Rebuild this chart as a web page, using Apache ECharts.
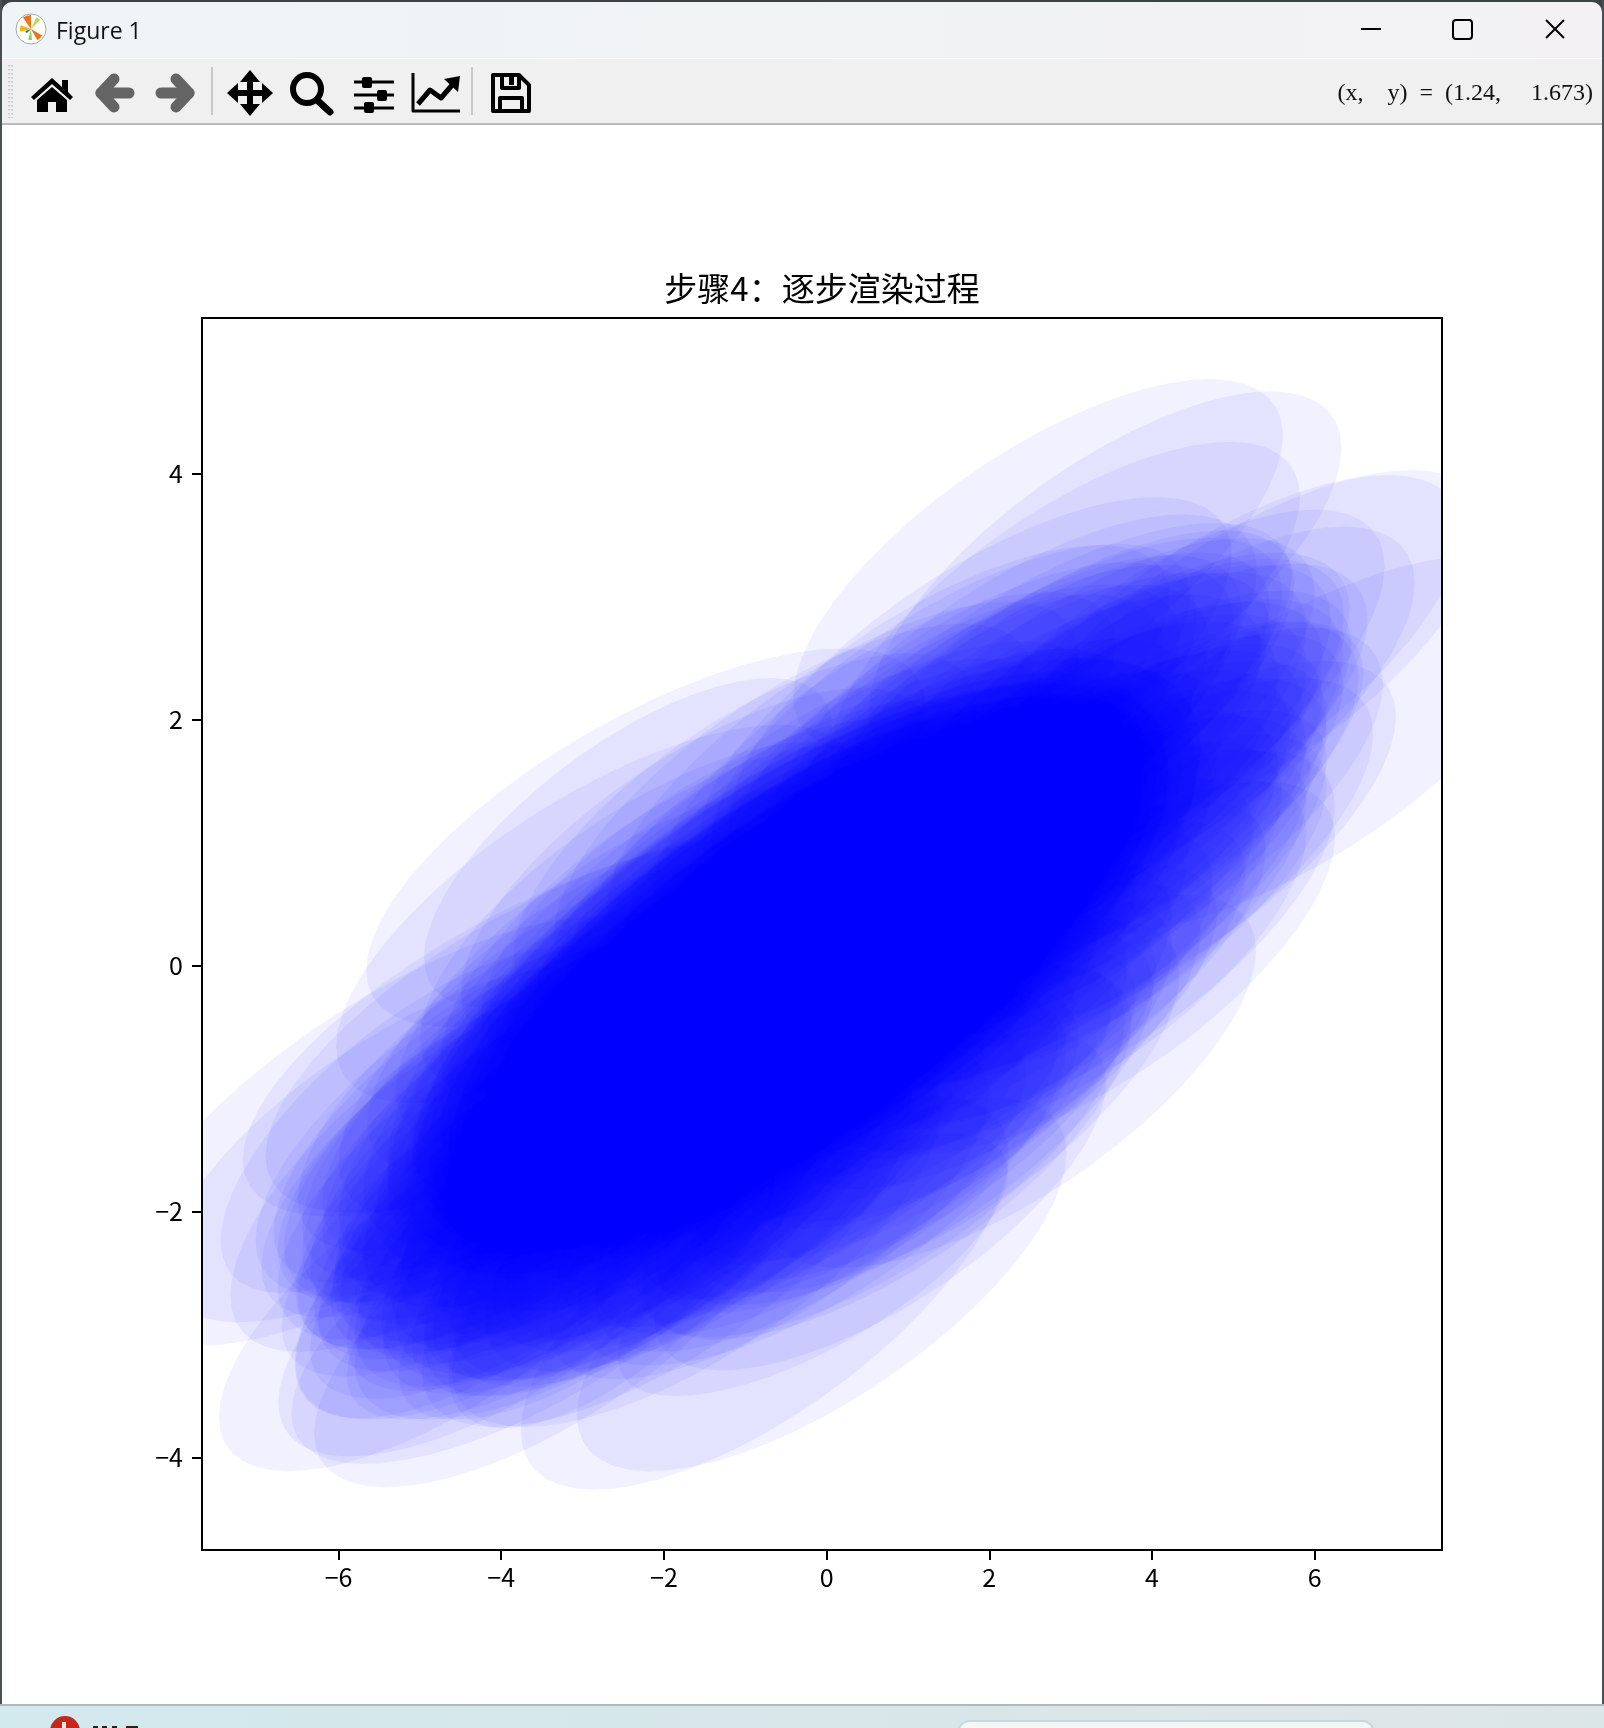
<!DOCTYPE html>
<html>
<head>
<meta charset="utf-8">
<title>Figure 1</title>
<script src="https://cdn.jsdelivr.net/npm/echarts@6/dist/echarts.min.js"></script>
<style>
html, body { margin: 0; padding: 0; background: #ffffff; }
#divChart { width: 1604px; height: 1728px; }
</style>
</head>
<body>
<div id="divChart"></div>
<script>
// every row: centre x, centre y, half width, half height (axis units)
let outerSplats = [
    [2.60, 3.25, 3.01, 1.52], [3.42, 3.14, 2.91, 1.53], [2.93, 2.77, 2.89, 1.49], [1.89, 2.27, 3.09, 1.54],
    [2.28, 2.15, 3.01, 1.52], [2.62, 2.14, 3.10, 1.46], [1.33, 2.04, 2.89, 1.38], [1.52, 2.01, 2.95, 1.42],
    [5.08, 2.51, 3.01, 1.52], [4.79, 2.47, 3.01, 1.52], [4.01, 2.17, 2.85, 1.54], [4.34, 2.05, 2.89, 1.52],
    [5.70, 1.79, 3.20, 1.54], [3.99, 0.96, 3.01, 1.52], [3.83, 1.23, 3.01, 1.52], [3.71, 0.82, 3.01, 1.52],
    [3.53, 1.28, 3.01, 1.52], [3.64, 1.75, 3.01, 1.52], [3.42, 1.84, 3.01, 1.52], [3.35, 1.79, 3.01, 1.52],
    [3.24, 0.23, 3.01, 1.52], [3.24, -0.02, 3.01, 1.52], [2.94, 0.51, 3.01, 1.52], [2.89, 0.01, 3.01, 1.52],
    [2.27, -0.94, 3.01, 1.52], [0.66, -1.91, 2.78, 1.38], [0.66, -1.50, 3.01, 1.52], [1.01, -1.24, 3.01, 1.52],
    [1.33, -1.14, 3.01, 1.52], [-4.62, -2.65, 2.85, 1.46], [-3.85, -2.53, 2.89, 1.46], [-3.61, -2.69, 2.97, 1.36],
    [-3.36, -2.78, 2.94, 1.46], [-3.88, -2.22, 2.66, 1.46], [-3.40, -2.49, 2.50, 1.20], [-2.92, -2.47, 2.34, 1.22],
    [-2.23, -2.01, 2.73, 1.49], [-2.39, -2.30, 2.26, 1.46], [-0.76, -2.66, 3.00, 1.60], [-0.06, -2.59, 3.01, 1.52],
    [-0.17, -2.43, 2.40, 1.07], [-3.49, -0.50, 3.69, 1.54], [-3.34, -0.47, 3.56, 1.54], [-4.95, -1.25, 2.50, 1.41],
    [-4.52, -1.60, 2.81, 1.54], [-5.24, -1.34, 3.56, 1.75], [-5.12, -1.44, 3.01, 1.46], [-2.83, 0.42, 3.20, 1.54],
    [-2.22, 1.04, 3.44, 1.54], [-2.44, 1.00, 2.51, 1.34], [-4.01, -1.17, 3.01, 1.52], [-3.66, -1.22, 3.01, 1.52],
    [-3.52, -1.60, 3.01, 1.52], [-3.06, -1.54, 3.01, 1.52], [-2.97, -1.62, 3.01, 1.52], [-2.47, -1.84, 3.01, 1.52],
    [-1.95, -1.85, 3.01, 1.52], [-1.60, -1.84, 3.01, 1.52], [-1.60, -2.23, 3.01, 1.52], [-1.97, -2.23, 3.01, 1.52],
    [-2.79, -2.17, 3.01, 1.52], [-3.52, -2.17, 3.01, 1.52], [0.74, -1.52, 3.01, 1.52], [-0.06, -1.73, 3.01, 1.52]
];
let midSplats = [
    [3.10, 2.00, 2.90, 1.48], [3.60, 1.60, 2.85, 1.45], [2.90, 1.70, 3.00, 1.50], [3.30, 1.20, 2.80, 1.42],
    [3.90, 1.40, 2.70, 1.40], [2.50, 1.90, 2.95, 1.46], [2.70, 1.30, 2.85, 1.50], [3.00, 0.80, 2.90, 1.44],
    [3.50, 0.70, 2.65, 1.38], [2.30, 1.50, 3.05, 1.52], [2.10, 1.00, 2.80, 1.40], [2.60, 0.60, 2.95, 1.48],
    [3.20, 0.40, 2.70, 1.36], [1.80, 1.60, 2.90, 1.50], [1.50, 1.20, 3.00, 1.46], [2.00, 0.50, 2.75, 1.42],
    [2.40, 0.10, 2.85, 1.44], [2.80, 0.00, 2.60, 1.34], [1.20, 1.50, 2.95, 1.52], [0.90, 1.10, 2.85, 1.48],
    [0.40, 1.20, 2.90, 1.44], [-0.20, 1.00, 3.00, 1.50], [-0.80, 0.70, 2.80, 1.46], [-1.30, 0.60, 2.95, 1.42],
    [-1.90, 0.30, 2.85, 1.50], [-2.40, 0.00, 2.90, 1.46], [-2.90, -0.30, 2.75, 1.40], [-3.30, -0.60, 2.70, 1.44],
    [0.60, 0.60, 3.05, 1.48], [0.00, 0.40, 2.90, 1.52], [-0.60, 0.20, 2.85, 1.44], [-1.20, 0.00, 3.00, 1.46],
    [-1.80, -0.30, 2.95, 1.50], [-2.30, -0.50, 2.80, 1.42], [-2.80, -0.80, 2.90, 1.48], [-3.80, -0.90, 2.70, 1.42],
    [-4.20, -1.20, 2.60, 1.38], [-3.60, -1.30, 2.85, 1.46], [-4.00, -1.60, 2.75, 1.44], [-3.30, -1.10, 2.90, 1.50],
    [-3.10, -1.50, 2.95, 1.42], [-3.50, -1.80, 2.80, 1.40], [-2.70, -1.30, 3.00, 1.48], [-2.90, -1.80, 2.85, 1.44],
    [-3.20, -2.10, 2.70, 1.36], [-2.30, -1.50, 2.95, 1.50], [-2.50, -1.90, 2.80, 1.42], [-2.00, -1.20, 2.90, 1.46],
    [-1.90, -1.70, 2.85, 1.40], [-2.10, -2.00, 2.75, 1.38], [-4.40, -1.50, 2.55, 1.36], [-4.10, -2.00, 2.60, 1.34],
    [-3.70, -2.20, 2.65, 1.32], [-1.40, -1.90, 2.80, 1.40], [-1.00, -1.60, 2.95, 1.46], [-0.70, -2.00, 2.70, 1.36],
    [-0.40, -1.50, 2.90, 1.44], [-0.20, -1.80, 2.65, 1.34], [0.20, -1.30, 2.85, 1.42], [0.50, -1.50, 2.60, 1.32],
    [0.80, -1.00, 2.90, 1.44], [1.10, -1.20, 2.70, 1.36], [1.30, -0.60, 2.95, 1.46], [1.60, -0.80, 2.65, 1.34],
    [1.90, -0.30, 2.85, 1.42], [2.20, -0.50, 2.60, 1.32], [-1.50, -1.30, 3.00, 1.50], [-0.90, -1.10, 2.90, 1.48],
    [-0.30, -0.90, 2.95, 1.46], [0.30, -0.70, 3.05, 1.50], [0.90, -0.40, 2.90, 1.48], [1.50, -0.10, 2.95, 1.46]
];
let tipSplats = [
    [3.40, 1.50, 2.95, 1.48], [3.10, 1.50, 3.00, 1.46], [3.60, 1.30, 2.75, 1.40], [3.30, 1.80, 2.90, 1.46],
    [2.80, 2.10, 2.95, 1.44], [2.60, 2.00, 3.00, 1.48], [2.40, 1.70, 3.05, 1.50], [2.90, 1.10, 2.95, 1.46],
    [3.30, 0.90, 2.85, 1.44], [2.70, 0.90, 3.00, 1.50], [3.40, 0.50, 2.75, 1.38], [2.20, 1.90, 2.90, 1.44],
    [2.00, 1.80, 3.00, 1.46], [1.60, 1.80, 2.95, 1.48], [1.30, 1.60, 3.05, 1.50], [3.00, 1.40, 2.90, 1.46],
    [3.20, 1.00, 2.95, 1.48], [-3.90, -1.30, 2.85, 1.44], [-3.70, -1.70, 2.80, 1.42], [-3.40, -1.40, 2.95, 1.48],
    [-3.20, -1.70, 2.90, 1.46], [-3.00, -2.00, 2.80, 1.42], [-2.80, -1.60, 3.00, 1.48], [-3.60, -1.10, 2.85, 1.46],
    [-3.30, -0.90, 2.90, 1.48], [-3.00, -1.20, 3.00, 1.50], [-2.60, -1.00, 2.95, 1.46], [-2.40, -1.70, 2.95, 1.44],
    [-2.70, -2.10, 2.75, 1.38], [-2.30, -2.10, 2.80, 1.40], [-1.80, -2.00, 2.85, 1.42], [-1.60, -1.60, 2.95, 1.46],
    [-1.20, -1.70, 2.90, 1.44], [-3.40, -1.90, 2.85, 1.40], [-2.20, -1.30, 3.05, 1.50], [-3.10, -1.00, 2.90, 1.46],
    [-1.00, 1.10, 2.85, 1.44], [-1.60, 0.80, 2.90, 1.46], [-2.20, 0.40, 2.80, 1.42], [0.20, 1.50, 2.90, 1.46],
    [0.70, 1.60, 2.85, 1.44], [-0.40, 1.30, 2.95, 1.48], [1.80, -0.70, 2.80, 1.38], [1.20, -1.00, 2.85, 1.40],
    [0.60, -1.30, 2.90, 1.42], [0.00, -1.60, 2.85, 1.40], [2.40, -0.20, 2.75, 1.38], [2.80, 0.40, 2.80, 1.42]
];
let coreSplats = [
    [-0.40, 0.00, 5.00, 2.50], [-0.50, 0.10, 4.90, 2.45], [-0.30, -0.10, 4.85, 2.45], [-0.60, -0.10, 4.80, 2.40],
    [-0.20, 0.10, 4.80, 2.40], [-0.40, 0.05, 4.70, 2.35], [-0.50, -0.05, 4.70, 2.38], [-0.30, 0.00, 4.65, 2.32],
    [-0.45, 0.08, 4.60, 2.30], [-0.35, -0.08, 4.55, 2.28], [-0.55, 0.00, 4.50, 2.30], [-0.25, 0.04, 4.50, 2.25],
    [-0.40, -0.04, 4.45, 2.24], [-0.50, 0.06, 4.40, 2.22], [-0.30, 0.02, 4.35, 2.20], [-0.42, -0.02, 4.30, 2.18],
    [-0.38, 0.03, 4.25, 2.16], [-0.46, -0.06, 4.20, 2.14], [-0.34, 0.06, 4.15, 2.12], [-0.40, 0.00, 4.10, 2.10],
    [-0.52, 0.02, 4.05, 2.08], [-0.28, -0.02, 4.00, 2.06], [-0.44, 0.05, 3.95, 2.05], [-0.36, -0.05, 3.90, 2.02],
    [-0.40, 0.02, 3.85, 2.00], [-0.48, -0.03, 3.80, 1.98], [-0.32, 0.03, 3.75, 1.96], [-0.40, -0.01, 3.70, 1.94],
    [-0.44, 0.01, 3.65, 1.92], [-0.36, 0.00, 3.60, 1.90], [-0.40, 0.04, 3.55, 1.88], [-0.42, -0.04, 3.50, 1.86],
    [-0.38, 0.02, 3.45, 1.84], [-0.40, -0.02, 3.40, 1.82], [-0.46, 0.00, 3.35, 1.80], [-0.34, 0.01, 3.30, 1.78],
    [-0.40, 0.00, 3.25, 1.76], [-0.42, 0.02, 3.20, 1.74], [-0.38, -0.02, 3.15, 1.72], [-0.40, 0.01, 3.10, 1.70]
];
let xTicks = [-6, -4, -2, 0, 2, 4, 6];
let yTicks = [-4, -2, 0, 2, 4];
let xRange = [-7.678, 7.565];
let yRange = [-4.75, 5.266];
let chartTitle = '步骤4：逐步渲染过程';
let windowTitle = 'Figure 1';
let cursorText = '(x,    y)  =  (1.24,     1.673)';
// ----------------------------------------------------
let splatTilt = 0.7;
let splatAlpha = 0.055;
let splatSteps = 56;
let cjkFont = '"Noto Sans CJK SC", "Noto Sans", sans-serif';

function renderSplat(params, api) {
    let x = api.value(0), y = api.value(1), rx = api.value(2), ry = api.value(3);
    let side = Math.sqrt(1 - splatTilt * splatTilt);
    let points = [];
    for (let i = 0; i < splatSteps; i++) {
        let t = i / splatSteps * Math.PI * 2;
        points.push(api.coord([
            x + rx * Math.cos(t),
            y + ry * (splatTilt * Math.cos(t) + side * Math.sin(t))
        ]));
    }
    return {
        type: 'polygon',
        shape: { points: points },
        style: { fill: '#0000ff', opacity: splatAlpha }
    };
}

function rectEl(x, y, w, h, fill, z) {
    return { type: 'rect', shape: { x: x, y: y, width: w, height: h }, style: { fill: fill }, z: z || 5, silent: true };
}
function polyEl(points, fill) {
    return { type: 'polygon', shape: { points: points }, style: { fill: fill }, z: 6, silent: true };
}
function strokeEl(points, color, width, cap, dash) {
    return {
        type: 'polyline', shape: { points: points },
        style: { stroke: color, lineWidth: width, fill: null, lineCap: cap || 'butt', lineJoin: 'round', lineDash: dash || null },
        z: 6, silent: true
    };
}
function sectorEl(startDeg, endDeg, r, fill) {
    return {
        type: 'sector',
        shape: { cx: 31, cy: 29, r0: 0, r: r, startAngle: startDeg * Math.PI / 180, endAngle: endDeg * Math.PI / 180 },
        style: { fill: fill }, z: 7, silent: true
    };
}

let chrome = [
    // window frame
    rectEl(0, 0, 1604, 14, '#3c4144', 4),
    rectEl(0, 0, 2, 1704, '#4a4f52', 4),
    rectEl(1602, 0, 2, 1704, '#4a4f52', 4),
    {
        type: 'rect', shape: { x: 2, y: 2, width: 1600, height: 56, r: [10, 10, 0, 0] },
        style: { fill: { type: 'linear', x: 0, y: 0, x2: 1, y2: 0, colorStops: [{ offset: 0, color: '#eff4f6' }, { offset: 1, color: '#f3f1f3' }] } },
        z: 5, silent: true
    },
    rectEl(2, 58, 1600, 1, '#ffffff'),
    rectEl(2, 59, 1600, 64, '#f0f0f0'),
    rectEl(2, 123, 1600, 2, '#bcbcbc'),
    // logo
    { type: 'circle', shape: { cx: 31, cy: 29, r: 15 }, style: { fill: '#ffffff', stroke: '#a8a8a8', lineWidth: 1 }, z: 6, silent: true },
    sectorEl(235, 270, 14, '#f47216'), sectorEl(165, 200, 11, '#f8b400'), sectorEl(30, 60, 13, '#f47216'),
    sectorEl(85, 105, 11, '#8fd14f'), sectorEl(295, 315, 13, '#b5d94c'), sectorEl(135, 160, 6, '#2f6fb0'),
    { type: 'text', style: { text: windowTitle, x: 56, y: 32, fill: '#111111', font: '23px "Open Sans"', verticalAlign: 'middle' }, z: 6, silent: true },
    // window buttons
    strokeEl([[1361, 29], [1381, 29]], '#000000', 2),
    { type: 'rect', shape: { x: 1453, y: 20, width: 19, height: 19, r: 3 }, style: { fill: null, stroke: '#000000', lineWidth: 2 }, z: 6, silent: true },
    strokeEl([[1546, 20], [1564, 38]], '#000000', 2),
    strokeEl([[1564, 20], [1546, 38]], '#000000', 2),
    // toolbar grip
    strokeEl([[9, 65], [9, 118]], '#bdbdbd', 1.5, 'butt', [1.5, 2.5]),
    strokeEl([[12, 65], [12, 118]], '#bdbdbd', 1.5, 'butt', [1.5, 2.5]),
    // home
    polyEl([[31, 97], [52, 78], [62, 87], [62, 80], [68, 80], [68, 92], [73, 97], [70, 100], [52, 84], [34, 100]], '#000000'),
    polyEl([[37, 100], [52, 87], [67, 100], [67, 112], [56, 112], [56, 102], [48, 102], [48, 112], [37, 112]], '#000000'),
    // back, forward
    strokeEl([[114, 79], [101, 93], [114, 107]], '#646464', 11, 'round'),
    strokeEl([[101, 93], [129, 93]], '#646464', 11, 'round'),
    strokeEl([[176, 79], [189, 93], [176, 107]], '#646464', 11, 'round'),
    strokeEl([[161, 93], [189, 93]], '#646464', 11, 'round'),
    rectEl(211, 67, 2, 48, '#c8c8c8', 6),
    // move
    strokeEl([[250, 76], [250, 110]], '#000000', 6),
    strokeEl([[233, 93], [267, 93]], '#000000', 6),
    polyEl([[250, 70], [240, 82], [260, 82]], '#000000'),
    polyEl([[250, 116], [240, 104], [260, 104]], '#000000'),
    polyEl([[227, 93], [238, 83], [238, 103]], '#000000'),
    polyEl([[273, 93], [262, 83], [262, 103]], '#000000'),
    // zoom
    { type: 'circle', shape: { cx: 307, cy: 89, r: 14 }, style: { fill: null, stroke: '#000000', lineWidth: 6 }, z: 6, silent: true },
    strokeEl([[317, 100], [330, 112]], '#000000', 7, 'round'),
    // sliders
    strokeEl([[354, 82], [394, 82]], '#000000', 3),
    strokeEl([[354, 95], [394, 95]], '#000000', 3),
    strokeEl([[354, 108], [394, 108]], '#000000', 3),
    { type: 'rect', shape: { x: 362, y: 77, width: 10, height: 11, r: 2 }, style: { fill: '#000000' }, z: 7, silent: true },
    { type: 'rect', shape: { x: 377, y: 90, width: 10, height: 11, r: 2 }, style: { fill: '#000000' }, z: 7, silent: true },
    { type: 'rect', shape: { x: 364, y: 102, width: 10, height: 11, r: 2 }, style: { fill: '#000000' }, z: 7, silent: true },
    // chart
    strokeEl([[413, 73], [413, 111], [460, 111]], '#000000', 3),
    strokeEl([[418, 104], [430, 90], [441, 98], [453, 84]], '#000000', 5),
    polyEl([[444, 79], [460, 76], [458, 92]], '#000000'),
    rectEl(471, 67, 2, 48, '#c8c8c8', 6),
    // save
    {
        type: 'polygon', shape: { points: [[493, 75], [519, 75], [529, 85], [529, 111], [493, 111]] },
        style: { fill: null, stroke: '#000000', lineWidth: 4, lineJoin: 'round' }, z: 6, silent: true
    },
    strokeEl([[502, 75], [502, 88], [519, 88], [519, 75]], '#000000', 4),
    rectEl(509, 76, 5, 9, '#000000', 6),
    strokeEl([[500, 110], [500, 98], [522, 98], [522, 110]], '#000000', 4),
    // cursor readout
    { type: 'text', style: { text: cursorText, x: 1593, y: 94, fill: '#111111', font: '24px "Liberation Serif"', align: 'right', verticalAlign: 'middle' }, z: 6, silent: true },
    // desktop strip
    rectEl(0, 1704, 1604, 2, '#aebabb', 8),
    {
        type: 'rect', shape: { x: 0, y: 1706, width: 1604, height: 22 },
        style: { fill: { type: 'linear', x: 0, y: 0, x2: 1, y2: 0, colorStops: [{ offset: 0, color: '#d2e9ed' }, { offset: 0.6, color: '#d8e6e9' }, { offset: 0.8, color: '#dfe5e7' }, { offset: 1, color: '#dbe6e9' }] } },
        z: 8, silent: true
    },
    { type: 'circle', shape: { cx: 65, cy: 1731, r: 15 }, style: { fill: '#c4281c' }, z: 9, silent: true },
    rectEl(62, 1722, 4, 6, '#f4e4e0', 10),
    rectEl(93, 1726, 5, 2, '#222222', 9),
    rectEl(102, 1726, 5, 2, '#222222', 9),
    rectEl(112, 1726, 5, 2, '#222222', 9),
    rectEl(126, 1726, 12, 2, '#222222', 9),
    { type: 'rect', shape: { x: 958, y: 1721, width: 416, height: 30, r: 12 }, style: { fill: '#f2f7f7', stroke: '#c8d7d9', lineWidth: 2 }, z: 9, silent: true },
    // plot frame over the fills
    { type: 'rect', shape: { x: 202, y: 318, width: 1240, height: 1232 }, style: { fill: null, stroke: '#000000', lineWidth: 2 }, z: 20, silent: true }
];

let chart = echarts.init(document.getElementById('divChart'));
let option = {
    animation: false,
    backgroundColor: '#ffffff',
    title: {
        text: chartTitle,
        left: 817,
        top: 267,
        textAlign: 'center',
        textStyle: { fontFamily: cjkFont, fontSize: 33, fontWeight: 'normal', color: '#000000' }
    },
    grid: { left: 202, top: 318, width: 1240, height: 1232, show: false },
    xAxis: {
        type: 'value',
        min: xRange[0],
        max: xRange[1],
        splitLine: { show: false },
        axisLine: { show: false, onZero: false },
        axisTick: { show: true, length: 10, customValues: xTicks, lineStyle: { color: '#000000', width: 2 } },
        axisLabel: {
            customValues: xTicks, margin: 15, color: '#000000', fontFamily: cjkFont, fontSize: 25,
            formatter: function (v) { return String(v).replace('-', '\u2212'); }
        }
    },
    yAxis: {
        type: 'value',
        min: yRange[0],
        max: yRange[1],
        splitLine: { show: false },
        axisLine: { show: false, onZero: false },
        axisTick: { show: true, length: 10, customValues: yTicks, lineStyle: { color: '#000000', width: 2 } },
        axisLabel: {
            customValues: yTicks, margin: 19, color: '#000000', fontFamily: cjkFont, fontSize: 25,
            formatter: function (v) { return String(v).replace('-', '\u2212'); }
        }
    },
    graphic: { elements: chrome },
    series: [{
        type: 'custom',
        coordinateSystem: 'cartesian2d',
        clip: true,
        silent: true,
        z: 10,
        encode: { x: 0, y: 1 },
        renderItem: renderSplat,
        data: outerSplats.concat(midSplats, tipSplats, coreSplats)
    }]
};
chart.setOption(option);
</script>
</body>
</html>
